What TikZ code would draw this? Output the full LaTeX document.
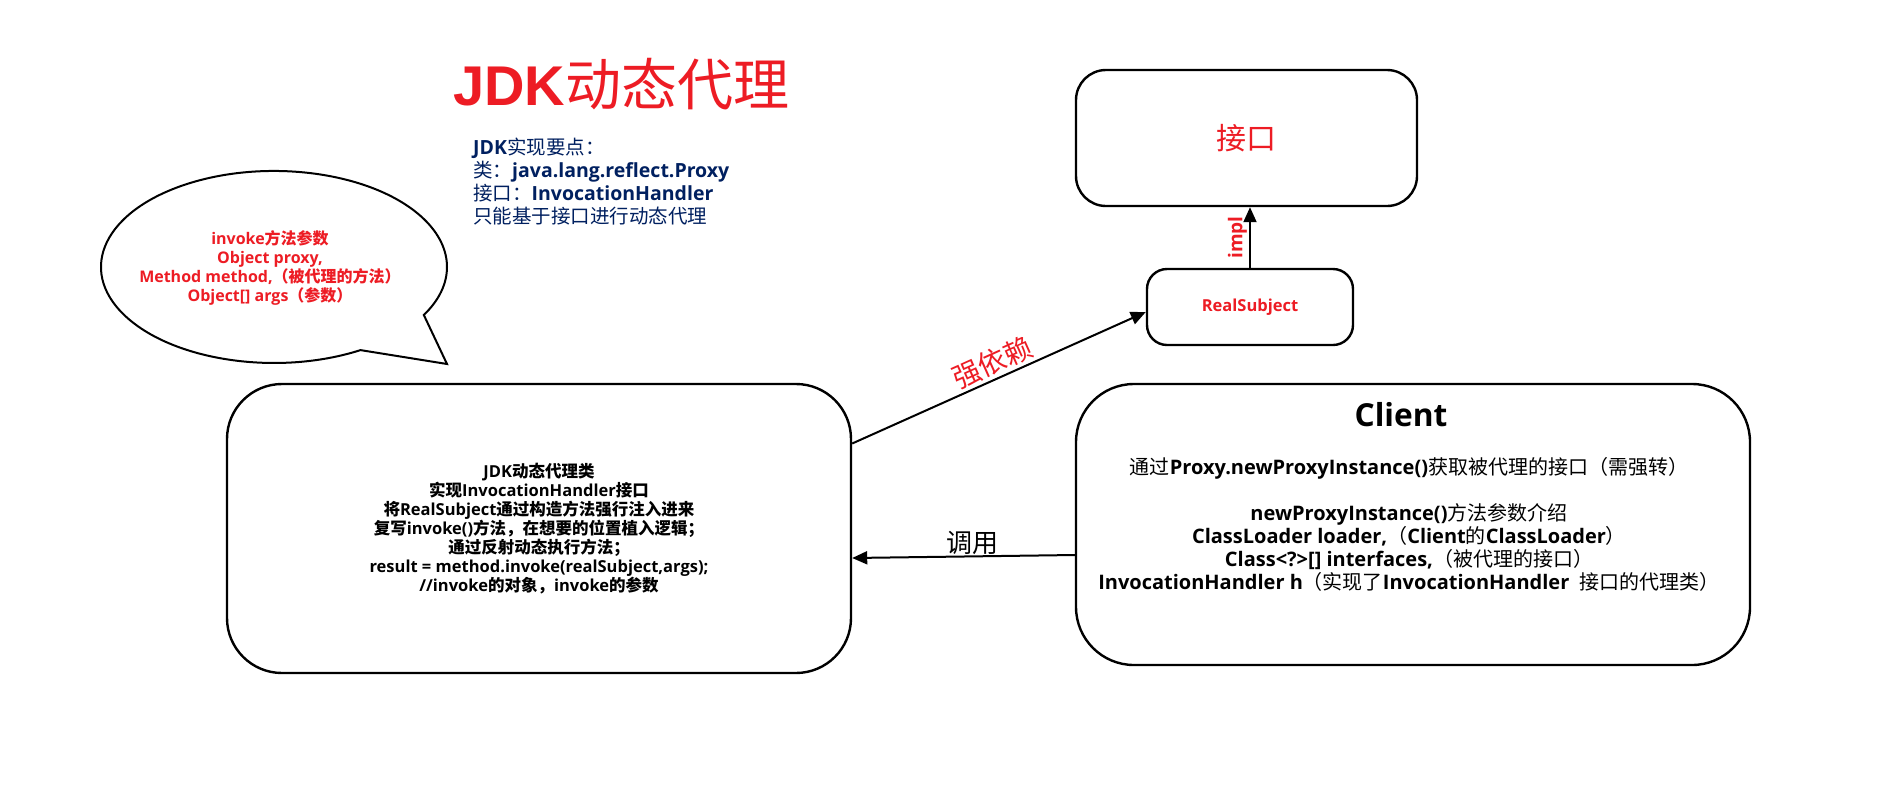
\documentclass[tikz,border=0pt]{standalone}
\usepackage{fontspec}
\setmainfont{Open Sans}
\newfontfamily\cjkfont{Noto Sans CJK SC}
\newfontfamily\titlefont{Liberation Sans}
\usetikzlibrary{arrows.meta}
\definecolor{myred}{RGB}{237,28,36}
\definecolor{navy}{RGB}{0,32,96}
\newcommand\CJ[1]{{\cjkfont #1}}
\newcommand\B[1]{{\bfseries #1}}
\begin{document}
\begin{tikzpicture}[x=1pt,y=-1pt,
  box/.style={draw, line width=2.4pt, inner sep=0pt},
  conn/.style={line width=2pt, -{Triangle[length=15pt,width=13pt]}},
  bubble/.style={draw, line width=2pt},
  info/.style={font=\fontsize{19.5}{23}\selectfont, text=navy, align=left, inner sep=0pt},
  redbold/.style={text=myred, font=\fontsize{16}{19}\selectfont\bfseries, align=center, inner sep=0pt},
  body/.style={font=\fontsize{16.5}{19}\selectfont\bfseries, align=center, inner sep=0pt},
  clientbody/.style={font=\fontsize{20}{23}\selectfont, align=center, inner sep=0pt}]
\useasboundingbox (0,0) rectangle (1890,796);
\fill[white] (0,0) rectangle (1890,796);

% title
\node[anchor=base west, inner sep=0pt, text=myred, font=\fontsize{56}{60}\selectfont] (title) at (453,105) {{\titlefont\bfseries JDK}\CJ{动态代理}};

% info text
\node[info, anchor=north west] (info) at (473,138) {\B{JDK}\CJ{实现要点：}\\
\CJ{类：}\B{java.lang.reflect.Proxy}\\
\CJ{接口：}\B{InvocationHandler}\\
\CJ{只能基于接口进行动态代理}};

% speech bubble
\draw[bubble] (360.5,350.1) arc[start angle=60, end angle=390, x radius=173, y radius=96] -- (447,364) -- cycle;
\node[redbold] (bubbletext) at (270,268) {invoke\CJ{方法参数}\\
Object proxy,\\
Method method,\CJ{（被代理的方法）}\\
Object[] args\CJ{（参数）}};

% interface box
\node[box, rounded corners=30pt, minimum width=341pt, minimum height=136pt, text=myred, font=\fontsize{30}{34}\selectfont] (iface) at (1246.5,138) {\CJ{接口}};

% RealSubject
\node[box, rounded corners=20pt, minimum width=206pt, minimum height=76pt, text=myred, font=\fontsize{16.5}{19}\selectfont\bfseries] (rs) at (1250,307) {RealSubject};

% left box
\node[box, rounded corners=55pt, minimum width=624pt, minimum height=289pt, body] (lbox) at (539,528.5) {JDK\CJ{动态代理类}\\
\CJ{实现}InvocationHandler\CJ{接口}\\
\CJ{将}RealSubject\CJ{通过构造方法强行注入进来}\\
\CJ{复写}invoke()\CJ{方法，在想要的位置植入逻辑；}\\
\CJ{通过反射动态执行方法；}\\
result = method.invoke(realSubject,args);\\
//invoke\CJ{的对象，}invoke\CJ{的参数}};

% client box
\node[box, rounded corners=58pt, minimum width=674pt, minimum height=281pt] (client) at (1413,524.5) {};
\node[inner sep=0pt, font=\fontsize{31.7}{36}\selectfont\bfseries] (ctitle) at (1401,415) {Client};
\node[clientbody] (cbody) at (1409,524.5) {\CJ{通过}\B{Proxy.newProxyInstance()}\CJ{获取被代理的接口（需强转）}\\[23pt]
\B{newProxyInstance()}\CJ{方法参数介绍}\\
\B{ClassLoader loader,}\CJ{（}\B{Client}\CJ{的}\B{ClassLoader}\CJ{）}\\
\B{Class<?>[] interfaces,}\CJ{（被代理的接口）}\\
\B{InvocationHandler h}\CJ{（实现了}\B{InvocationHandler\ \ }\CJ{接口的代理类）}};

% connectors
\draw[conn] ([yshift=85pt]lbox.east) -- node[midway, sloped, above=2pt, inner sep=1pt, text=myred, font=\fontsize{28}{30}\selectfont] (lbl1) {\CJ{强依赖}} ([yshift=-5pt]rs.west);
\draw[conn] ([yshift=-30.5pt]client.west) -- node[pos=0.46, above=0pt, inner sep=1pt, font=\fontsize{26}{28}\selectfont] (lbl2) {\CJ{调用}} ([yshift=-29.5pt]lbox.east);
\draw[conn] (rs.north) -- node[midway, sloped, above=0pt, inner sep=2pt, text=myred, font=\fontsize{19}{21}\selectfont\bfseries] (lbl3) {impl} (rs.north |- iface.south);
\end{tikzpicture}
\end{document}
